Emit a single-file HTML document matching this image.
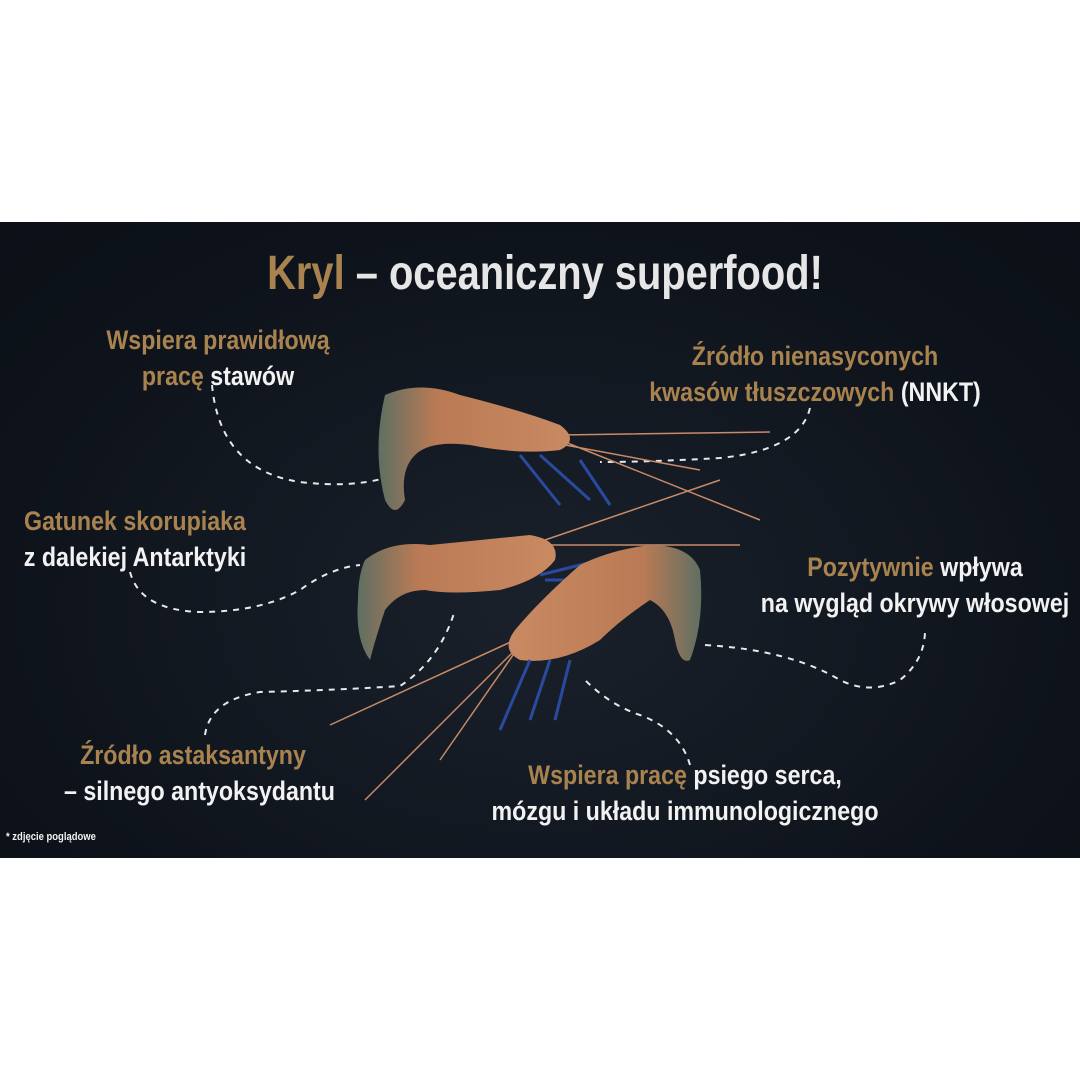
<!DOCTYPE html>
<html><head><meta charset="utf-8"><style>
html,body{margin:0;padding:0;background:#fff;}
#wrap{position:relative;width:1080px;height:1080px;overflow:hidden;background:#fff;}
#ban{position:absolute;left:0;top:222px;width:1080px;height:636px;background:radial-gradient(ellipse at 50% 60%,#1a212b 0%,#0e131b 70%,#0b1017 100%);}
.t{position:absolute;font-family:"Liberation Sans",sans-serif;font-weight:bold;color:#f2f2f2;text-align:center;white-space:nowrap;line-height:36px;font-size:27px;transform:scaleX(0.86);transform-origin:50% 0;}
.g{color:#a9834f;}
</style></head><body><div id="wrap">
<div id="ban"></div>
<svg style="position:absolute;left:0;top:0" width="1080" height="1080">
<defs>
<linearGradient id="sh" x1="0" y1="0" x2="1" y2="0">
<stop offset="0" stop-color="#5f6f62"/><stop offset="0.3" stop-color="#b97a55"/><stop offset="1" stop-color="#c98a62"/>
</linearGradient>
<linearGradient id="sh2" x1="1" y1="0" x2="0" y2="0">
<stop offset="0" stop-color="#5f6f62"/><stop offset="0.3" stop-color="#b97a55"/><stop offset="1" stop-color="#c98a62"/>
</linearGradient>
</defs>
<g fill="none" stroke="#e8e8e8" stroke-width="2" stroke-dasharray="6 6">
<path d="M212 385 Q220 470 300 482 Q350 488 385 478"/>
<path d="M810 408 Q800 450 720 458 Q650 462 600 462"/>
<path d="M130 572 Q140 610 200 612 Q260 612 300 590 Q330 568 360 565"/>
<path d="M705 645 Q790 650 840 680 Q870 695 900 680 Q925 660 925 630"/>
<path d="M205 735 Q210 700 260 692 Q340 690 400 686 Q440 660 455 610"/>
<path d="M690 765 Q680 730 640 715 Q610 705 585 680"/>
</g>
<g>
<path d="M385 395 Q420 380 460 395 Q520 410 560 425 Q580 440 560 450 Q520 455 470 445 Q430 440 415 455 Q400 470 405 500 Q395 520 385 500 Q372 450 385 395Z" fill="url(#sh)"/>
<path d="M560 435 L770 432 M560 440 L760 520 M565 445 L700 470" stroke="#c88a68" stroke-width="1.5"/>
<path d="M520 455 L560 505 M540 455 L590 500 M580 460 L610 505" stroke="#2a4aa0" stroke-width="3"/>
</g>
<g>
<path d="M365 560 Q390 540 430 545 Q480 540 530 535 Q560 540 555 560 Q540 580 500 590 Q450 595 425 590 Q400 590 385 610 Q375 640 370 660 Q355 640 358 600 Q358 575 365 560Z" fill="url(#sh)"/>
<path d="M545 540 L720 480 M548 545 L740 545" stroke="#c88a68" stroke-width="1.5"/>
<path d="M540 575 L600 560 M545 580 L610 580" stroke="#2a4aa0" stroke-width="3"/>
</g>
<g>
<path d="M700 570 Q690 545 650 545 Q610 550 580 565 Q540 600 515 630 Q500 650 520 660 Q560 665 600 640 Q620 620 650 600 Q670 610 675 640 Q680 665 690 660 Q705 620 700 570Z" fill="url(#sh2)"/>
<path d="M515 640 L330 725 M515 650 L365 800 M520 645 L440 760" stroke="#c88a68" stroke-width="1.5"/>
<path d="M530 660 L500 730 M550 660 L530 720 M570 660 L555 720" stroke="#2a4aa0" stroke-width="3"/>
</g>
</svg>
<div class="t" style="left:145px;width:800px;top:244px;font-size:48px;line-height:60px;color:#e6e6e6;transform:scaleX(0.83)"><span class="g">Kryl</span> – oceaniczny superfood!</div>
<div class="t g" style="left:68px;width:300px;top:322px">Wspiera prawidłową<br>pracę <span style="color:#f2f2f2">stawów</span></div>
<div class="t g" style="left:615px;width:400px;top:338px">Źródło nienasyconych<br>kwasów tłuszczowych <span style="color:#f2f2f2">(NNKT)</span></div>
<div class="t g" style="left:-15px;width:300px;top:503px">Gatunek skorupiaka<br><span style="color:#f2f2f2">z dalekiej Antarktyki</span></div>
<div class="t g" style="left:715px;width:400px;top:549px">Pozytywnie <span style="color:#f2f2f2">wpływa</span><br><span style="color:#f2f2f2">na wygląd okrywy włosowej</span></div>
<div class="t g" style="left:43px;width:300px;top:737px">Źródło astaksantyny<br><span style="color:#f2f2f2">– silnego antyoksydantu</span></div>
<div class="t g" style="left:460px;width:450px;top:757px">Wspiera pracę <span style="color:#f2f2f2">psiego serca,</span><br><span style="color:#f2f2f2">mózgu i układu immunologicznego</span></div>
<div class="t" style="left:6px;top:830px;font-size:11px;line-height:14px;text-align:left;transform-origin:0 0">* zdjęcie poglądowe</div>
</div></body></html>
